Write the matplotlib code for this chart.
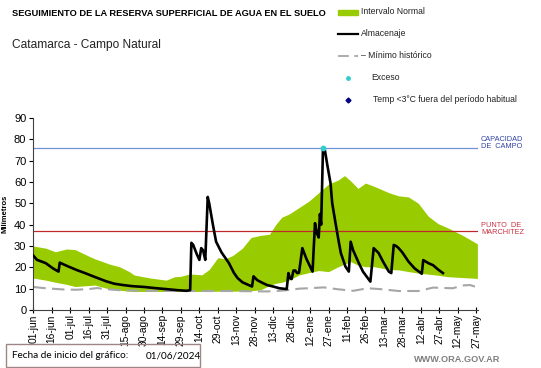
import numpy as np
import matplotlib
matplotlib.use('Agg')
import matplotlib.pyplot as plt
from matplotlib.lines import Line2D
from matplotlib.patches import Rectangle

plt.rcParams['font.family'] = ['Liberation Sans', 'DejaVu Sans']

# ---------- DATA (x = days since 01-jun-2024) ----------
tick_labels = ["01-jun", "16-jun", "01-jul", "16-jul", "31-jul", "15-ago", "30-ago",
               "14-sep", "29-sep", "14-oct", "29-oct", "13-nov", "28-nov", "13-dic",
               "28-dic", "12-ene", "27-ene", "11-feb", "26-feb", "13-mar", "28-mar",
               "12-abr", "27-abr", "12-may", "27-may"]
tick_days = [0, 15, 30, 45, 60, 75, 90, 105, 120, 135, 150, 165, 180, 195, 210,
             225, 240, 255, 270, 285, 300, 315, 330, 345, 360]

band_days = [0, 10, 18, 27, 34, 46, 50, 62, 70, 78, 82, 95, 108, 115, 120, 127, 137,
             143, 150, 156, 162, 170, 177, 185, 192, 197, 202, 208, 216, 224, 232,
             240, 248, 253, 258, 264, 270, 277, 289, 297, 305, 313, 321, 329, 337,
             349, 361]
band_hi = [30, 29, 27.3, 28.6, 28.3, 25, 24, 21.5, 20.3, 18, 16.4, 15, 14, 15.6, 15.8,
           16.9, 16.5, 19, 24.5, 24, 25.5, 29, 34, 35, 35.5, 40, 43.5, 45, 48, 51, 55,
           59, 61, 63, 60.5, 57, 59.5, 58, 55, 53.5, 53, 50, 44, 40.5, 38.5, 35, 31]
band_lo = [15, 14, 13, 12, 11, 11.5, 11.7, 9.8, 9.3, 8.8, 8.7, 8.7, 8.7, 8.7, 8.7,
           8.7, 8.7, 8.7, 8.8, 8.8, 8.8, 8.9, 9, 9.5, 11.5, 12.5, 13, 14, 16.4, 17.5,
           18.5, 18, 20.3, 21.5, 22.7, 21, 20.3, 20.3, 19, 18.8, 18, 17.3, 16.8, 16.3,
           15.6, 15.2, 14.8]

alm_days = [0, 3, 10, 16, 20.5, 21.5, 28, 35, 42, 48.6, 59, 66, 73, 80, 90, 100, 108,
            117, 124.6, 127.5, 128.5, 130, 133, 135, 136.5, 138, 139.8, 141.8, 143,
            146, 148.6, 153, 159, 163, 166, 170, 177, 177.8, 179, 182, 186, 190, 195,
            200, 206, 207.4, 208.5, 210, 211.5, 213, 214.5, 216, 218.7, 222, 227, 229,
            230.5, 232, 233, 234, 235.5, 237, 239, 241.6, 243, 245.7, 248, 250, 253.8,
            256.5, 258, 260, 264.6, 268, 274, 276.7, 280.7, 284, 289, 291, 293, 295,
            297, 300, 305, 310, 315.8, 317, 321, 325, 329, 333]
alm_vals = [25.5, 23.5, 22, 19.5, 18, 22.2, 20.5, 18.8, 17.3, 15.8, 13.5, 12.3, 11.7,
            11.2, 10.8, 10.2, 9.8, 9.3, 9.0, 9.3, 31.5, 30.5, 26, 23.5, 29, 28, 23.5,
            53, 50, 40, 32, 27, 22, 17.5, 15, 13, 11.2, 11, 15.8, 14, 12.8, 11.7, 11,
            10.2, 9.8, 17.3, 15, 14.5, 18.5, 18.5, 17.3, 17.5, 29, 24, 18, 40.7, 36,
            34, 45, 40, 76, 75, 68, 59.5, 50, 40.7, 33, 26.7, 20.3, 18, 32, 28, 22, 18,
            13.3, 29, 26.7, 23, 18, 17.3, 30.5, 30, 29, 27, 22.7, 19.5, 17, 23.4, 22,
            21, 19, 17.3]

min_days = [0, 8, 15, 25, 35, 45, 52, 58, 70, 90, 120, 160, 190, 200, 208, 216, 224,
            236, 248, 260, 272, 284, 297, 313, 325, 335, 341, 349, 355, 361]
min_vals = [10.8, 10.3, 10, 9.6, 9.5, 9.8, 10.3, 9.8, 9.3, 9, 8.9, 8.9, 8.7, 9.0, 9.4,
            10, 10.2, 10.6, 9.7, 9.0, 10.2, 9.7, 8.9, 8.9, 10.5, 10.3, 10.2, 11.5,
            11.7, 10.6]

exceso_days = [235.5]
exceso_vals = [76]

capacidad_campo = 76
punto_marchitez = 37.2

# ---------- FIGURE ----------
W, H = 541, 368
fig = plt.figure(figsize=(W / 100, H / 100), dpi=100)
ax = fig.add_axes([33.3 / W, 1 - 310 / H, (478 - 33.3) / W, 192 / H])

ax.fill_between(band_days, band_lo, band_hi, color='#99cc00', linewidth=0, zorder=1)
ax.plot(min_days, min_vals, color='#a6a6a6', lw=1.5, dashes=(6, 3), zorder=2)
ax.plot(alm_days, alm_vals, color='black', lw=1.9, zorder=3)
ax.axhline(capacidad_campo, color='#7092d6', lw=0.9, zorder=2)
ax.axhline(punto_marchitez, color='#c0282a', lw=0.9, zorder=2)
ax.scatter(exceso_days, exceso_vals, s=10, color='#33cccc', zorder=4)

ax.set_xlim(0, 361.5)
ax.set_ylim(0, 90)
ax.set_yticks(range(0, 91, 10))
ax.set_xticks(tick_days)
ax.set_xticklabels(tick_labels, rotation=90, fontsize=7.4)
ax.tick_params(axis='y', labelsize=8, length=3, width=0.8, pad=2)
ax.tick_params(axis='x', direction='inout', length=4, width=0.8, pad=1)
for side in ['top', 'right']:
    ax.spines[side].set_visible(False)
for side in ['left', 'bottom']:
    ax.spines[side].set_color('#404040')
ax.set_ylabel("Milímetros", fontsize=5.5, fontweight='bold', labelpad=4)

# right-side labels
fig.text(481 / W, 1 - 143 / H, "CAPACIDAD\nDE  CAMPO", color='#3344aa', fontsize=5.3,
         va='center', ha='left', linespacing=1.1)
fig.text(481 / W, 1 - 229 / H, "PUNTO  DE\nMARCHITEZ", color='#cc3344', fontsize=5.3,
         va='center', ha='left', linespacing=1.1)

# ---------- TITLES ----------
fig.text(12 / W, 1 - 13 / H, "SEGUIMIENTO DE LA RESERVA SUPERFICIAL DE AGUA EN EL SUELO",
         fontsize=6.7, fontweight='bold', va='center')
fig.text(12 / W, 1 - 45 / H, "Catamarca - Campo Natural", fontsize=8.6, va='center',
         color='#222222')

# ---------- LEGEND ----------
fig.add_artist(Rectangle((338 / W, 1 - 15 / H), 20 / W, 5 / H, color='#99cc00',
                         transform=fig.transFigure))
fig.add_artist(Line2D([338 / W, 358 / W], [1 - 34 / H] * 2, color='black', lw=1.6,
                      transform=fig.transFigure))
fig.add_artist(Line2D([338 / W, 358 / W], [1 - 56 / H] * 2, color='#a6a6a6', lw=1.3,
                      dashes=(6, 3), transform=fig.transFigure))
fig.add_artist(Line2D([348 / W], [1 - 78 / H], marker='o', ms=2.5, color='#33cccc',
                      lw=0, transform=fig.transFigure))
fig.add_artist(Line2D([348 / W], [1 - 100 / H], marker='D', ms=2.5, color='#000080',
                      lw=0, transform=fig.transFigure))
leg_items = [("Intervalo Normal", 361, 12), ("Almacenaje", 361, 34),
             ("– Mínimo histórico", 361, 56), ("Exceso", 371, 78),
             ("Temp <3°C fuera del período habitual", 373, 100)]
for txt, x, y in leg_items:
    fig.text(x / W, 1 - y / H, txt, fontsize=6.2, va='center', color='#222222')

# ---------- FOOTER ----------
fig.add_artist(Rectangle((6 / W, 1 - 367 / H), 194 / W, 23 / H, fill=False,
                         edgecolor='#a08585', lw=1.0, transform=fig.transFigure))
fig.text(12 / W, 1 - 356 / H, "Fecha de inicio del gráfico:", fontsize=7.2,
         va='center', family=['Lato', 'DejaVu Sans'])
fig.text(146 / W, 1 - 356 / H, "01/06/2024", fontsize=7.2, va='center',
         family=['Lato', 'DejaVu Sans'])
fig.text(500 / W, 1 - 360 / H, "WWW.ORA.GOV.AR", fontsize=6.6, fontweight='bold',
         color='#7f7f7f', ha='right', va='center')

fig.savefig('out.png', dpi=100)
